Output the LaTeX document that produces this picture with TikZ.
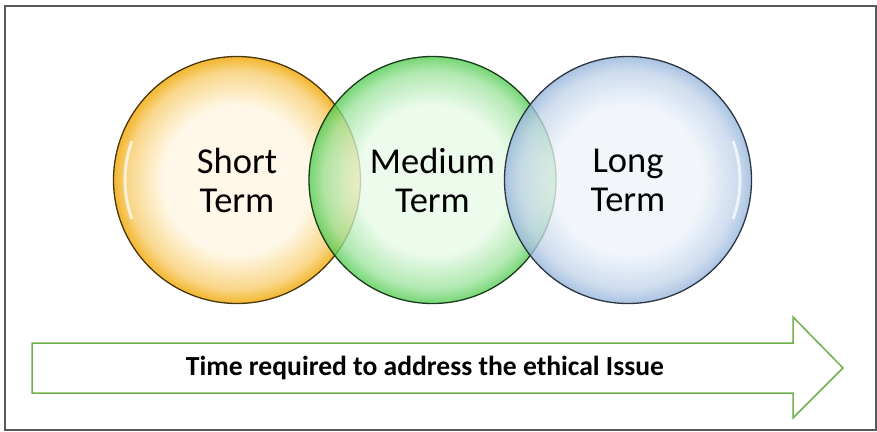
\documentclass[tikz,border=0pt]{standalone}
\usepackage{fontspec}
\setmainfont{Carlito}
\definecolor{shortin}{HTML}{FFF8E8}
\definecolor{shortout}{HTML}{F3B62E}
\definecolor{medin}{HTML}{E8FAE8}
\definecolor{medout}{HTML}{4FCB4F}
\definecolor{longin}{HTML}{EEF3FA}
\definecolor{longout}{HTML}{93B3DA}
\definecolor{arrowgreen}{HTML}{70B04A}
\pgfdeclareradialshading{shortbub}{\pgfpoint{0bp}{0bp}}{color(0bp)=(shortin); color(15bp)=(shortin); color(22bp)=(shortin!50!shortout); color(25bp)=(shortout); color(50bp)=(shortout)}
\pgfdeclareradialshading{medbub}{\pgfpoint{0bp}{0bp}}{color(0bp)=(medin); color(15bp)=(medin); color(22bp)=(medin!50!medout); color(25bp)=(medout); color(50bp)=(medout)}
\pgfdeclareradialshading{longbub}{\pgfpoint{0bp}{0bp}}{color(0bp)=(longin); color(15bp)=(longin); color(22bp)=(longin!50!longout); color(25bp)=(longout); color(50bp)=(longout)}
\tikzset{
  bubble/.style={circle, minimum size=247pt, inner sep=0pt, line width=1.3pt,
    align=center, font=\fontsize{36.5}{39}\selectfont},
  arrowline/.style={draw=arrowgreen, line width=1.5pt, line join=miter}
}
\begin{document}
\begin{tikzpicture}[x=1pt, y=-1pt, node distance=195.5pt, >=latex]
\useasboundingbox (0,0) rectangle (877,431);
\draw[black!65, line width=1.5pt] (5,6) rectangle (876,430);
% Blocks
\node [bubble, shading=shortbub, draw=shortout!30!black] (short) at (237,180) {Short\\Term};
\node [bubble, shading=medbub, fill opacity=0.78, text opacity=1, draw=medout!30!black, right of=short] (medium) {Medium\\Term};
\node [bubble, shading=longbub, fill opacity=0.78, text opacity=1, draw=longout!30!black, right of=medium] (long) {Long\\Term};
% glossy highlights
\draw[white, line width=3pt, opacity=0.7, line cap=round] (short.center) ++(160:112pt) arc[start angle=160, end angle=200, radius=112pt];
\draw[white, line width=3pt, opacity=0.7, line cap=round] (long.center) ++(-20:112pt) arc[start angle=-20, end angle=20, radius=112pt];
% Timeline
\node [font=\fontsize{27.6}{32}\selectfont\bfseries] (timeline) at (425,368) {Time required to address the ethical Issue};
\draw [arrowline] (32,343) -- (793,343) -- (793,317) -- (843,368) -- (793,418) -- (793,393) -- (32,393) -- cycle;
\end{tikzpicture}
\end{document}
